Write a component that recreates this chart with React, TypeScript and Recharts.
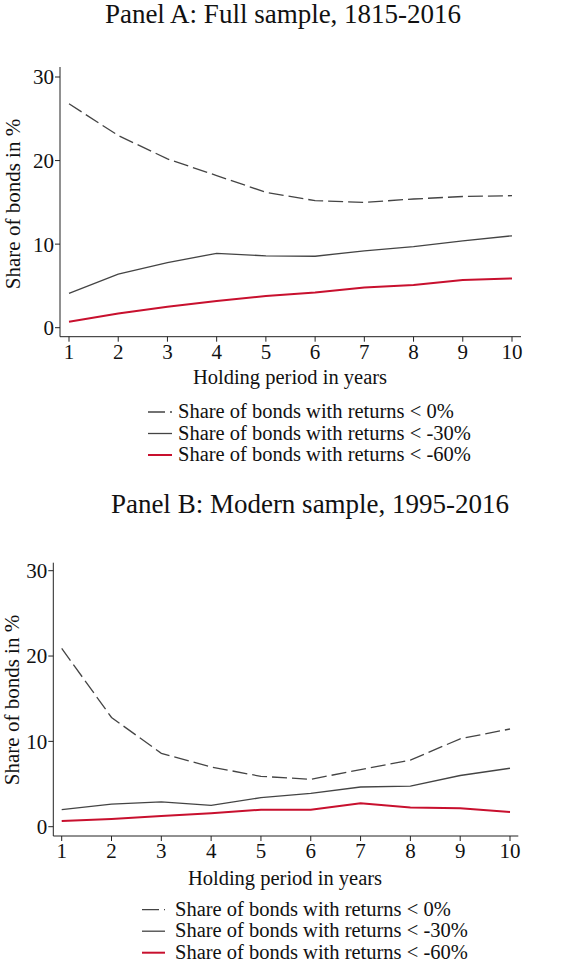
import React from 'react';
import { LineChart, Line, XAxis, YAxis } from 'recharts';

// holding period (years)
const years = [1, 2, 3, 4, 5, 6, 7, 8, 9, 10];
const yTicks = [0, 10, 20, 30];

// Panel A: full sample, 1815-2016
const fullBelow0 = [26.8, 23.0, 20.2, 18.2, 16.2, 15.2, 15.0, 15.4, 15.7, 15.8];
const fullBelow30 = [4.1, 6.4, 7.8, 8.9, 8.6, 8.55, 9.2, 9.7, 10.4, 11.0];
const fullBelow60 = [0.7, 1.7, 2.5, 3.2, 3.8, 4.2, 4.8, 5.1, 5.7, 5.9];

// Panel B: modern sample, 1995-2016
const modernBelow0 = [20.9, 12.8, 8.6, 7.0, 5.9, 5.55, 6.7, 7.8, 10.3, 11.45];
const modernBelow30 = [2.0, 2.65, 2.9, 2.5, 3.4, 3.9, 4.65, 4.75, 6.0, 6.85];
const modernBelow60 = [0.67, 0.9, 1.25, 1.57, 2.0, 2.0, 2.75, 2.25, 2.15, 1.72];

const legendLabels = [
    'Share of bonds with returns < 0%',
    'Share of bonds with returns < -30%',
    'Share of bonds with returns < -60%'
];

const FONT = '"Liberation Serif", "Times New Roman", serif';
const GRAY = '#444444';
const RED = '#C8102E';
const DASH = '15 5';

const toRows = (a: number[], b: number[], c: number[]) =>
    years.map((y, i) => ({ year: y, below0: a[i], below30: b[i], below60: c[i] }));

const tickStyle = { fill: '#111', fontSize: 21, fontFamily: FONT };

interface PanelProps {
    top: number;
    data: any[];
    margin: { top: number; right: number; left: number; bottom: number };
    xPad: { left: number; right: number };
    yPad: { top: number; bottom: number };
}

const Panel: React.FC<PanelProps> = ({ top, data, margin, xPad, yPad }) => (
    <div style={{ position: 'absolute', left: 0, top }}>
        <LineChart width={576} height={400} data={data} margin={margin}>
            <XAxis
                dataKey="year"
                type="number"
                domain={[1, 10]}
                ticks={years}
                padding={xPad}
                height={30}
                stroke="#222"
                tickSize={5}
                tickMargin={2}
                tick={tickStyle}
                interval={0}
            />
            <YAxis
                type="number"
                domain={[0, 30]}
                ticks={yTicks}
                padding={yPad}
                width={50}
                stroke="#222"
                tickSize={5}
                tickMargin={1}
                tick={tickStyle}
            />
            <Line dataKey="below0" stroke={GRAY} strokeWidth={1.3} strokeDasharray={DASH} dot={false} isAnimationActive={false} />
            <Line dataKey="below30" stroke={GRAY} strokeWidth={1.3} dot={false} isAnimationActive={false} />
            <Line dataKey="below60" stroke={RED} strokeWidth={2} dot={false} isAnimationActive={false} />
        </LineChart>
    </div>
);

const LegendBlock: React.FC<{ x: number; y: number; lineLen: number; textX: number }> = ({ x, y, lineLen, textX }) => (
    <g>
        {legendLabels.map((label, i) => (
            <g key={label}>
                <line
                    x1={x}
                    x2={x + lineLen}
                    y1={y + i * 21.5 - 6}
                    y2={y + i * 21.5 - 6}
                    stroke={i === 2 ? RED : GRAY}
                    strokeWidth={i === 2 ? 2 : 1.3}
                    strokeDasharray={i === 0 ? '17 5' : undefined}
                />
                <text x={textX} y={y + i * 21.5} fontSize={20.5} fontFamily={FONT} fill="#111">
                    {label}
                </text>
            </g>
        ))}
    </g>
);

export default function App() {
    return (
        <div style={{ position: 'absolute', left: 0, top: 0, width: 576, height: 964, background: '#fff', overflow: 'hidden' }}>
            <Panel
                top={0}
                data={toRows(fullBelow0, fullBelow30, fullBelow60)}
                margin={{ top: 67, right: 55, left: 10, bottom: 33.3 }}
                xPad={{ left: 9, right: 9 }}
                yPad={{ top: 10, bottom: 9 }}
            />
            <Panel
                top={500}
                data={toRows(modernBelow0, modernBelow30, modernBelow60)}
                margin={{ top: 62.7, right: 57.7, left: 3.3, bottom: 34 }}
                xPad={{ left: 8.4, right: 8.3 }}
                yPad={{ top: 8, bottom: 9.3 }}
            />
            <svg width={576} height={964} style={{ position: 'absolute', left: 0, top: 0, pointerEvents: 'none' }}>
                <text x={283} y={23} textAnchor="middle" fontSize={27} fontFamily={FONT} fill="#111">
                    Panel A: Full sample, 1815-2016
                </text>
                <text x={310} y={513} textAnchor="middle" fontSize={27} fontFamily={FONT} fill="#111">
                    Panel B: Modern sample, 1995-2016
                </text>
                <text x={20} y={204} transform="rotate(-90 20 204)" textAnchor="middle" fontSize={21} fontFamily={FONT} fill="#111">
                    Share of bonds in %
                </text>
                <text x={19} y={700} transform="rotate(-90 19 700)" textAnchor="middle" fontSize={21} fontFamily={FONT} fill="#111">
                    Share of bonds in %
                </text>
                <text x={290} y={384} textAnchor="middle" fontSize={20.5} fontFamily={FONT} fill="#111">
                    Holding period in years
                </text>
                <text x={285} y={885} textAnchor="middle" fontSize={20.5} fontFamily={FONT} fill="#111">
                    Holding period in years
                </text>
                <LegendBlock x={148} y={418} lineLen={24} textX={178} />
                <LegendBlock x={142} y={915.7} lineLen={23} textX={175} />
            </svg>
        </div>
    );
}
